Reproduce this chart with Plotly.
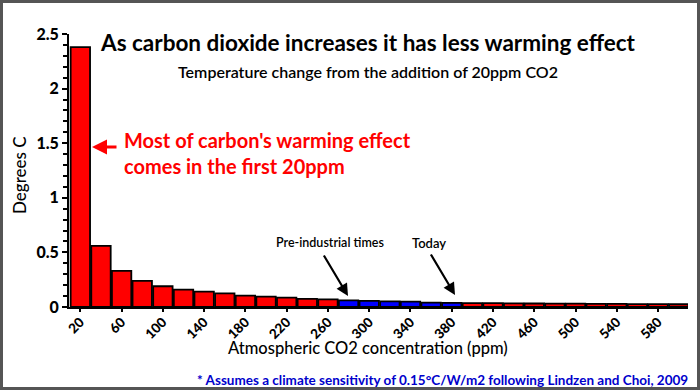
import plotly.graph_objects as go

ppm = [20, 40, 60, 80, 100, 120, 140, 160, 180, 200, 220, 240, 260, 280, 300,
       320, 340, 360, 380, 400, 420, 440, 460, 480, 500, 520, 540, 560, 580, 600]
warming = [2.38, 0.56, 0.33, 0.24, 0.19, 0.16, 0.14, 0.125, 0.105, 0.095, 0.085, 0.075, 0.07, 0.06, 0.057,
           0.052, 0.05, 0.04, 0.038, 0.035, 0.035, 0.033, 0.032, 0.03, 0.03, 0.028, 0.028, 0.027, 0.026, 0.025]
era = ["red"] * 13 + ["blue"] * 6 + ["red"] * 11
tick_labels = [20, 60, 100, 140, 180, 220, 260, 300, 340, 380, 420, 460, 500, 540, 580]

W, H = 700, 390
L, R, T, B = 69, 12, 34, 83
PW, PH = W - L - R, H - T - B


def px(x):
    return (x - L) / PW


def py(y):
    return (H - B - y) / PH


colors = {"red": "#ff0000", "blue": "#0000ff"}
fig = go.Figure(go.Bar(
    x=ppm, y=warming,
    marker=dict(color=[colors[e] for e in era], line=dict(color="black", width=1.8)),
))

ann = []
font_main = "Lato, 'Open Sans', sans-serif"
ann.append(dict(x=px(368), y=py(42), xref="paper", yref="paper", showarrow=False,
                text="<b>As carbon dioxide increases it has less warming effect</b>",
                font=dict(family=font_main, size=22.5, color="black", weight=900), xanchor="center", yanchor="middle"))
ann.append(dict(x=px(368), y=py(72), xref="paper", yref="paper", showarrow=False,
                text="Temperature change from the addition of 20ppm CO2",
                font=dict(family=font_main, size=16, color="black", weight=600), xanchor="center", yanchor="middle"))
ann.append(dict(x=px(122), y=py(153), xref="paper", yref="paper", showarrow=False, align="left",
                text="Most of carbon's warming effect<br>comes in the first 20ppm",
                font=dict(family="'Comic Sans MS', Lato, sans-serif", size=20, color="#ff0000", weight=700),
                xanchor="left", yanchor="middle"))
ann.append(dict(x=px(92), y=py(147), xref="paper", yref="paper", showarrow=True, text="",
                ax=26, ay=0, arrowhead=2, arrowsize=1, arrowwidth=3, arrowcolor="#ff0000"))
ann.append(dict(x=px(330), y=py(243), xref="paper", yref="paper", showarrow=False,
                text="Pre-industrial times", font=dict(family=font_main, size=12.5, color="black", weight=600),
                xanchor="center", yanchor="middle"))
ann.append(dict(x=px(348), y=py(296), xref="paper", yref="paper", showarrow=True, text="",
                ax=-25, ay=-42, arrowhead=2, arrowsize=1.1, arrowwidth=2.2, arrowcolor="black"))
ann.append(dict(x=px(429), y=py(243), xref="paper", yref="paper", showarrow=False,
                text="Today", font=dict(family=font_main, size=13, color="black", weight=600),
                xanchor="center", yanchor="middle"))
ann.append(dict(x=px(455), y=py(295), xref="paper", yref="paper", showarrow=True, text="",
                ax=-25, ay=-42, arrowhead=2, arrowsize=1.1, arrowwidth=2.2, arrowcolor="black"))
ann.append(dict(x=px(368), y=py(348), xref="paper", yref="paper", showarrow=False,
                text="Atmospheric CO2 concentration (ppm)", font=dict(family=font_main, size=16.5, color="black", weight=500),
                xanchor="center", yanchor="middle"))
ann.append(dict(x=px(690), y=py(380), xref="paper", yref="paper", showarrow=False,
                text="* Assumes a climate sensitivity of 0.15°C/W/m2 following Lindzen and Choi, 2009",
                font=dict(family=font_main, size=13.5, color="#0000cc", weight=700),
                xanchor="right", yanchor="middle"))
ann.append(dict(x=px(20), y=py(175), xref="paper", yref="paper", showarrow=False,
                text="Degrees C", textangle=-90, font=dict(family=font_main, size=17, color="black", weight=500),
                xanchor="center", yanchor="middle"))

fig.update_layout(
    width=W, height=H,
    margin=dict(l=L, r=R, t=T, b=B, autoexpand=False),
    paper_bgcolor="white", plot_bgcolor="white",
    bargap=0.06, showlegend=False,
    annotations=ann,
    shapes=[dict(type="rect", xref="paper", yref="paper",
                 x0=px(1.5), x1=px(698.5), y0=py(388.5), y1=py(1.5),
                 line=dict(color="#555555", width=3))],
    font=dict(family=font_main, color="black"),
)
fig.update_xaxes(
    range=[9, 609], tickmode="array", tickvals=tick_labels, ticktext=[str(t) for t in tick_labels],
    tickangle=-45, tickfont=dict(family=font_main, size=13.5, color="black", weight=900),
    ticklabelstandoff=-3,
    showline=True, linecolor="black", linewidth=2, ticks="outside", ticklen=3, tickwidth=2,
    tickcolor="black", showgrid=False, zeroline=False,
)
fig.update_yaxes(
    range=[0, 2.5], tickvals=[0, 0.5, 1, 1.5, 2, 2.5], ticktext=["0", "0.5", "1", "1.5", "2", "2.5"],
    tickfont=dict(family=font_main, size=16, color="black", weight=900),
    showline=True, linecolor="black", linewidth=2, ticks="outside", ticklen=5, tickwidth=2,
    tickcolor="black", showgrid=False, zeroline=False,
    minor=dict(dtick=0.1, ticks="outside", ticklen=4, tickwidth=2, tickcolor="black"),
)

fig.write_html("out.html", post_script="document.body.style.margin='0px';",
               config={"displayModeBar": False})
